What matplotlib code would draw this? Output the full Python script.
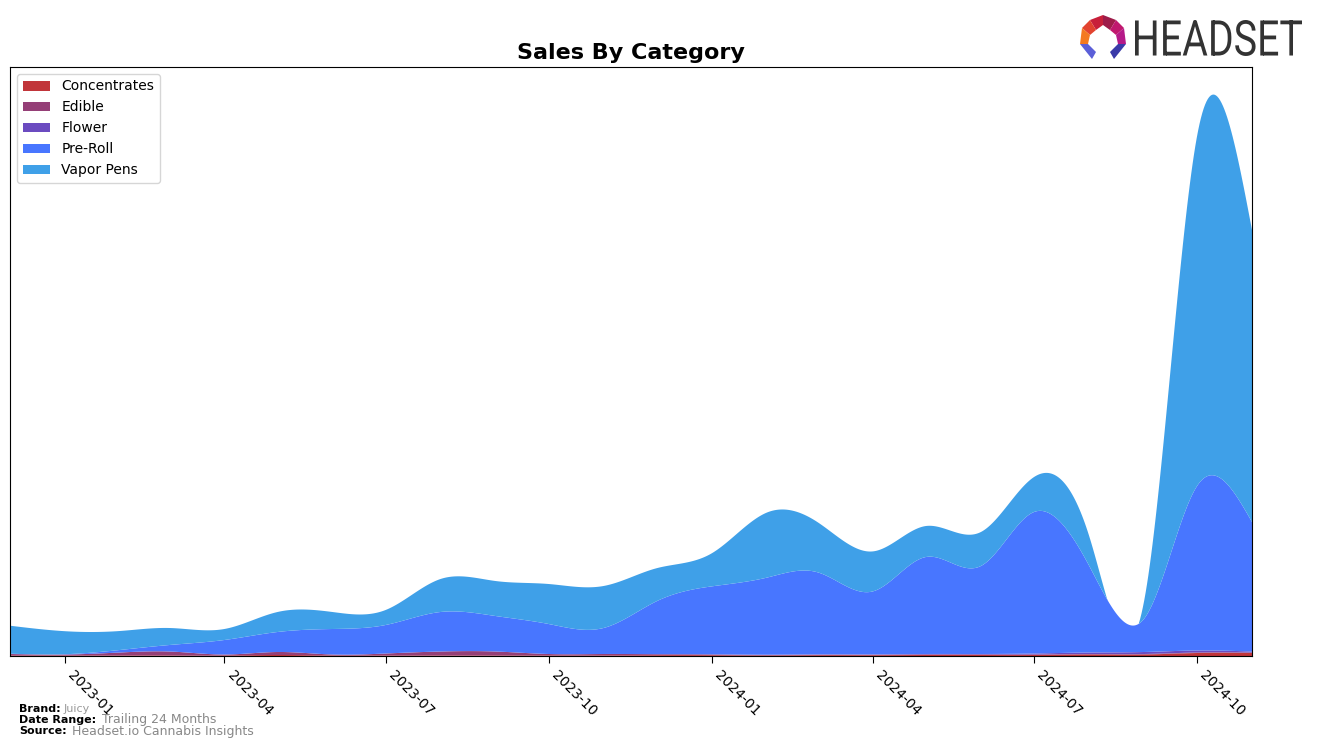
import numpy as np
import matplotlib
matplotlib.use("Agg")
import matplotlib.pyplot as plt
import matplotlib.dates as mdates
from matplotlib.textpath import TextPath
from matplotlib.font_manager import FontProperties
from matplotlib.patches import PathPatch, Polygon
from matplotlib.transforms import Affine2D
import datetime as dt

months = ["2022-12", "2023-01", "2023-02", "2023-03", "2023-04", "2023-05",
          "2023-06", "2023-07", "2023-08", "2023-09", "2023-10", "2023-11",
          "2023-12", "2024-01", "2024-02", "2024-03", "2024-04", "2024-05",
          "2024-06", "2024-07", "2024-08", "2024-09", "2024-10", "2024-11"]
categories = ["Concentrates", "Edible", "Flower", "Pre-Roll", "Vapor Pens"]

concentrates = [0.5, 0.5, 0.5, 0.5, 0.5, 1.0, 0.5, 0.5, 0.5, 0.5, 0.5, 0.5,
                0.8, 0.8, 0.5, 0.8, 0.8, 1.0, 1.0, 1.0, 1.5, 1.5, 3.0, 3.0]
edible = [1.5, 1.0, 3.0, 4.0, 1.0, 3.0, 1.0, 2.0, 4.0, 4.0, 1.5, 1.5,
          1.0, 0.8, 0.5, 0.5, 0.5, 0.5, 0.5, 0.5, 0.5, 0.5, 0.5, 0.5]
flower = [0, 0, 0, 0, 0, 0, 0, 0, 0, 0, 0, 0,
          0, 0, 0.3, 0.3, 0.3, 0.5, 0.5, 1.0, 1.5, 2.0, 2.0, 1.0]
pre_roll = [0.3, 0.3, 2.5, 6.5, 14.5, 20, 25.5, 28.5, 39.5, 35.5, 30, 26,
            53, 68, 77, 82, 63, 97, 88, 141.5, 87, 33, 164.5, 129.5]
vapor_pens = [28, 23, 19, 17, 11, 20, 17, 15, 33, 35, 40, 42,
              33, 33, 65, 50, 40, 31, 34, 35, 30, 17, 350, 292]

colors = ["#C1353A", "#953F77", "#6B4BC0", "#4876FF", "#3FA0E8"]

tick_labels = ["2023-01", "2023-04", "2023-07", "2023-10",
               "2024-01", "2024-04", "2024-07", "2024-10"]


def spline(x, y, xs):
    x = np.asarray(x, float)
    y = np.asarray(y, float)
    n = len(x)
    h = np.diff(x)
    A = np.zeros((n, n))
    b = np.zeros(n)
    A[0, 0] = 1
    A[-1, -1] = 1
    for i in range(1, n - 1):
        A[i, i - 1] = h[i - 1]
        A[i, i] = 2 * (h[i - 1] + h[i])
        A[i, i + 1] = h[i]
        b[i] = 6 * ((y[i + 1] - y[i]) / h[i] - (y[i] - y[i - 1]) / h[i - 1])
    M = np.linalg.solve(A, b)
    idx = np.clip(np.searchsorted(x, xs) - 1, 0, n - 2)
    x0, x1 = x[idx], x[idx + 1]
    hh = x1 - x0
    return (M[idx] * (x1 - xs) ** 3 / (6 * hh) + M[idx + 1] * (xs - x0) ** 3 / (6 * hh)
            + (y[idx] / hh - M[idx] * hh / 6) * (x1 - xs)
            + (y[idx + 1] / hh - M[idx + 1] * hh / 6) * (xs - x0))


dates = [dt.datetime.strptime(m + "-01", "%Y-%m-%d") for m in months]
xn = mdates.date2num(dates)
xs = np.linspace(xn[0], xn[-1], 900)
series = [concentrates, edible, flower, pre_roll, vapor_pens]
smooth = [np.clip(spline(xn, s, xs), 0, None) for s in series]

fig = plt.figure(figsize=(13.17, 7.47), dpi=100)
ax = fig.add_axes([10 / 1317, 1 - 656 / 747, 1242 / 1317, 589 / 747])
ax.stackplot(xs, *smooth, colors=colors, labels=categories)

ax.set_xlim(xn[0], xn[-1])
ax.set_ylim(0, 589)
ax.set_yticks([])
tick_dates = [dt.datetime.strptime(t + "-01", "%Y-%m-%d") for t in tick_labels]
ax.set_xticks(mdates.date2num(tick_dates))
ax.set_xticklabels(tick_labels, rotation=-45, ha="left", fontsize=10)
ax.tick_params(axis="x", length=5, pad=4)
ax.set_title("Sales By Category", fontsize=16, fontweight="bold", pad=6)
leg = ax.legend(loc="upper left", fontsize=10, frameon=True, borderpad=0.4,
                handlelength=2.0, labelspacing=0.5)
leg.get_frame().set_edgecolor("#cccccc")

fig.text(19 / 1317, 1 - 709 / 747, "Brand:", fontsize=8, fontweight="bold", va="center")
fig.text(64 / 1317, 1 - 709 / 747, "Juicy", fontsize=8, color="#999999", va="center")
fig.text(19 / 1317, 1 - 720 / 747, "Date Range:", fontsize=8, fontweight="bold", va="center")
fig.text(102 / 1317, 1 - 720 / 747, "Trailing 24 Months", fontsize=9, color="#888888", va="center")
fig.text(19 / 1317, 1 - 731 / 747, "Source:", fontsize=8, fontweight="bold", va="center")
fig.text(72 / 1317, 1 - 731 / 747, "Headset.io Cannabis Insights", fontsize=9, color="#888888", va="center")

W, H = 1317.0, 747.0
tp = TextPath((0, 0), "HEADSET", size=100, prop=FontProperties(family="Roboto"))
bb = tp.get_extents()
x0p, x1p, ytop, ybot = 1135, 1302, 20, 56
sx = (x1p - x0p) / bb.width
sy = (ybot - ytop) / bb.height
tr = Affine2D().translate(-bb.x0, -bb.y0).scale(sx / W, sy / H).translate(x0p / W, 1 - ybot / H)
fig.patches.append(PathPatch(tr.transform_path(tp), facecolor="#333333", edgecolor="none",
                             transform=fig.transFigure, figure=fig))


def P(pts, c):
    fig.patches.append(Polygon([(px / W, 1 - py / H) for px, py in pts], closed=True,
                               facecolor=c, edgecolor="none", transform=fig.transFigure, figure=fig))


P([(1103, 15), (1090, 20), (1096, 30), (1103, 25)], "#C8203A")
P([(1103, 15), (1116, 20), (1110, 30), (1103, 25)], "#9E1C4A")
P([(1090, 20), (1082, 28), (1090, 35), (1096, 30)], "#E2432F")
P([(1116, 20), (1124, 28), (1116, 35), (1110, 30)], "#C0186E")
P([(1082, 28), (1080, 44), (1088, 44), (1090, 35)], "#F47A20")
P([(1124, 28), (1126, 44), (1118, 44), (1116, 35)], "#B51A88")
P([(1080, 44), (1088, 44), (1096, 52), (1092, 59)], "#5B5FD8")
P([(1126, 44), (1118, 44), (1110, 52), (1114, 59)], "#3A3AA8")

fig.savefig("out.png", dpi=100)
